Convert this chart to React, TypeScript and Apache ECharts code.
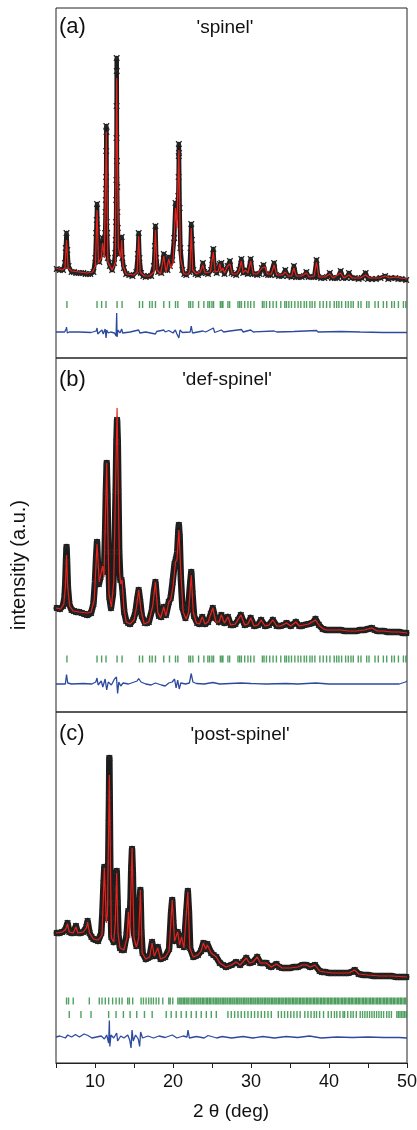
import React, { useEffect, useRef } from "react";
import * as echarts from "echarts";

// ---- Panel (a) 'spinel' : 2θ (deg), intensity (a.u.) ----
const calcA: number[][] = [
  [5.0, 90], [5.8, 88], [6.15, 90], [6.35, 118], [6.55, 90], [7.0, 87], [8.0, 86], [9.0, 85], [9.7, 86], [10.05, 92],
  [10.26, 148], [10.45, 95], [10.8, 100], [10.98, 115], [11.2, 100], [11.45, 226], [11.65, 96], [12.2, 88], [12.6, 95],
  [12.78, 280], [13.0, 110], [13.3, 100], [13.42, 118], [13.6, 92], [14.0, 84], [15.0, 83], [15.4, 86], [15.6, 122],
  [15.8, 86], [16.3, 82], [17.0, 82], [17.55, 86], [17.75, 128], [17.95, 88], [18.4, 84], [18.82, 102], [19.1, 86],
  [19.46, 99], [19.7, 90], [20.0, 95], [20.32, 150], [20.5, 130], [20.75, 208], [20.95, 100], [21.4, 84], [22.0, 84],
  [22.17, 88], [22.34, 130], [22.52, 88], [23.0, 84], [23.5, 86], [23.83, 93], [24.1, 85], [24.8, 86], [25.17, 106],
  [25.4, 86], [25.8, 87], [26.0, 94], [26.2, 87], [26.4, 90], [26.6, 85], [27.0, 92], [27.3, 94], [27.6, 84],
  [28.2, 84], [28.5, 88], [28.77, 97], [29.0, 85], [29.3, 88], [29.6, 85], [29.96, 97], [30.3, 84], [30.8, 84],
  [31.4, 90], [31.8, 91], [32.1, 84], [32.6, 84], [32.96, 93], [33.3, 83], [34.0, 83], [34.4, 86], [34.8, 82],
  [35.2, 82], [35.5, 90], [35.8, 82], [36.5, 82], [37.1, 85], [37.5, 81], [38.1, 82], [38.4, 96], [38.7, 81],
  [39.5, 81], [40.1, 84], [40.5, 80], [41.5, 85], [41.9, 80], [42.56, 83], [43.0, 80], [44.0, 80], [44.7, 83],
  [45.2, 80], [46.5, 80], [47.2, 82], [47.8, 80], [48.5, 81], [49.2, 80], [50.0, 79],
];
const obsA: number[][] = [
  [5.1, 89], [5.5, 88], [5.9, 88], [6.15, 95], [6.25, 110], [6.35, 125], [6.45, 108], [6.6, 92], [7.0, 86], [7.3, 86],
  [7.6, 85], [7.9, 85], [8.2, 85], [8.5, 85], [8.8, 84], [9.1, 84], [9.4, 84], [9.8, 86], [10.05, 100], [10.15, 125],
  [10.22, 138], [10.26, 154], [10.32, 130], [10.4, 110], [10.55, 96], [10.75, 104], [10.9, 112], [10.98, 120],
  [11.05, 110], [11.2, 105], [11.3, 125], [11.36, 146], [11.39, 158], [11.41, 169], [11.43, 181], [11.44, 207],
  [11.45, 232], [11.47, 226], [11.5, 136], [11.55, 125], [11.65, 100], [11.9, 92], [12.2, 88], [12.45, 95],
  [12.6, 105], [12.66, 118], [12.7, 136], [12.72, 158], [12.74, 178], [12.76, 220], [12.77, 252], [12.78, 300],
  [12.79, 287], [12.81, 197], [12.84, 171], [12.87, 146], [12.92, 130], [13.0, 112], [13.15, 104], [13.3, 106],
  [13.42, 121], [13.5, 100], [13.7, 90], [14.0, 84], [14.4, 83], [14.8, 82], [15.3, 86], [15.5, 104], [15.6, 125],
  [15.7, 100], [15.9, 85], [16.2, 82], [16.5, 81], [16.85, 82], [17.2, 82], [17.55, 92], [17.68, 112], [17.75, 132],
  [17.85, 100], [18.1, 86], [18.5, 85], [18.82, 104], [19.0, 88], [19.3, 88], [19.46, 101], [19.6, 92], [19.9, 98],
  [20.15, 120], [20.32, 155], [20.45, 140], [20.6, 153], [20.68, 162], [20.72, 181], [20.74, 202], [20.75, 214],
  [20.77, 205], [20.85, 150], [20.95, 110], [21.2, 88], [21.45, 84], [21.7, 83], [22.1, 86], [22.25, 110],
  [22.34, 134], [22.42, 118], [22.6, 88], [22.9, 84], [23.2, 83], [23.6, 85], [23.83, 95], [24.0, 86], [24.25, 85],
  [24.5, 84], [24.9, 88], [25.05, 98], [25.17, 109], [25.3, 92], [25.6, 85], [26.0, 94], [26.2, 95], [26.35, 88],
  [26.6, 84], [27.0, 92], [27.3, 97], [27.5, 85], [27.8, 84], [28.1, 83], [28.5, 88], [28.77, 99], [29.0, 85],
  [29.3, 88], [29.6, 84], [29.96, 99], [30.2, 84], [30.5, 84], [30.8, 83], [31.1, 84], [31.4, 90], [31.6, 93],
  [31.9, 84], [32.2, 83], [32.5, 83], [32.96, 95], [33.2, 83], [33.6, 82], [34.0, 82], [34.4, 88], [34.7, 82],
  [35.2, 81], [35.5, 92], [35.8, 81], [36.1, 81], [36.5, 81], [36.8, 82], [37.1, 86], [37.4, 81], [37.75, 81],
  [38.1, 81], [38.4, 98], [38.6, 81], [39.0, 80], [39.4, 80], [39.75, 81], [40.1, 85], [40.4, 80], [40.75, 80],
  [41.1, 80], [41.5, 87], [41.8, 80], [42.2, 80], [42.56, 85], [42.9, 80], [43.3, 80], [43.8, 79], [44.2, 80],
  [44.7, 85], [45.0, 79], [45.5, 79], [46.0, 79], [46.6, 80], [47.2, 82], [47.6, 79], [48.0, 80], [48.5, 80],
  [48.9, 79], [49.3, 79], [49.9, 78],
];
const diffA: number[][] = [
  [5, 26], [6.1, 26], [6.3, 29], [6.35, 31], [6.45, 25], [6.7, 26], [8, 26], [9.5, 25.5], [10.15, 27], [10.26, 30],
  [10.35, 24], [10.6, 26], [10.9, 28], [11.05, 24], [11.3, 29], [11.42, 20], [11.5, 28], [11.7, 25], [12.0, 26],
  [12.5, 25], [12.7, 22], [12.78, 45], [12.83, 21], [12.95, 28], [13.2, 25], [13.42, 29], [13.55, 25], [14.5, 26],
  [15.6, 28], [15.75, 25], [16.5, 26], [17.75, 24], [17.9, 26.5], [18.82, 28], [19.0, 26], [19.46, 27.5],
  [20.0, 25], [20.3, 28], [20.5, 24], [20.75, 20], [20.9, 28], [21.2, 25.5], [22.2, 26], [22.34, 32], [22.5, 25],
  [23.83, 27], [24.2, 26], [25.17, 30], [25.35, 25.5], [26.2, 28], [26.5, 26], [27.3, 27], [28.77, 28.5],
  [29.0, 26], [29.96, 28], [30.3, 26], [32.96, 27], [33.3, 26], [35.5, 26.5], [38.4, 27.5], [38.6, 26],
  [41.5, 26.5], [44, 26], [47, 25.5], [50, 25.5],
];
// reflection positions of the spinel phase (used in (a) and (b))
const spinelTicks: number[] = [
  6.4, 10.26, 10.85, 11.41, 12.83, 13.47, 15.7, 16.1, 17.0, 17.33, 17.75, 18.82, 19.55, 20.32, 20.62, 22.03, 22.25,
  22.55, 23.28, 23.96, 24.47, 24.69, 24.99, 25.2, 26.07, 26.27, 26.4, 27.04, 27.26, 28.33, 28.55, 28.77, 29.19,
  29.61, 29.96, 30.39, 31.46, 31.67, 31.98, 32.4, 32.83, 33.26, 33.82, 34.33, 34.55, 34.85, 35.19, 35.62, 36.04,
  36.39, 36.82, 37.12, 37.55, 37.84, 38.19, 38.83, 39.26, 39.69, 40.12, 40.67, 40.98, 41.27, 41.62, 42.13, 42.47,
  42.82, 43.11, 43.75, 44.1, 44.83, 45.13, 45.9, 46.32, 46.97, 47.4, 48.04, 48.38, 48.9, 49.54, 49.85,
];

// ---- Panel (b) 'def-spinel' ----
const calcB: number[][] = [
  [5.0, 104], [5.6, 103], [6.0, 108], [6.2, 125], [6.35, 157], [6.5, 125], [6.75, 106], [7.2, 101], [8.0, 100],
  [9.0, 99], [9.5, 100], [9.9, 112], [10.26, 168], [10.55, 130], [10.8, 140], [10.98, 146], [11.15, 135],
  [11.5, 249], [11.8, 118], [12.1, 105], [12.4, 130], [12.83, 304], [13.15, 140], [13.3, 128], [13.47, 132],
  [13.7, 104], [14.0, 90], [14.5, 88], [15.0, 92], [15.3, 104], [15.6, 122], [15.9, 102], [16.3, 88], [16.9, 90],
  [17.4, 106], [17.75, 130], [18.05, 100], [18.4, 94], [18.82, 105], [19.1, 96], [19.46, 110], [19.7, 112],
  [20.0, 125], [20.32, 150], [20.5, 152], [20.75, 182], [21.0, 140], [21.3, 100], [21.7, 93], [22.0, 100],
  [22.34, 137], [22.6, 100], [23.0, 89], [23.4, 88], [23.75, 95], [24.1, 88], [24.5, 90], [25.1, 104], [25.5, 90],
  [25.9, 90], [26.2, 97], [26.6, 89], [27.05, 95], [27.4, 87], [28.0, 88], [28.7, 97], [29.2, 87], [29.6, 88],
  [29.96, 94], [30.4, 86], [30.9, 87], [31.3, 92], [31.8, 86], [32.3, 87], [32.8, 92], [33.3, 86], [33.8, 86],
  [34.55, 89], [35.1, 86], [35.75, 90], [36.2, 86], [36.8, 87], [37.4, 88], [38.27, 92], [38.8, 86], [39.3, 83],
  [39.7, 82], [40.5, 82], [41.5, 82], [42.5, 81], [43.5, 81], [44.5, 82], [45.5, 84], [46.2, 81], [47.0, 81],
  [48.0, 80], [49.0, 80], [50.0, 79],
];
const obsB: number[][] = [
  [5.1, 104], [5.5, 103], [5.9, 106], [6.1, 115], [6.2, 130], [6.28, 150], [6.35, 165], [6.42, 150], [6.52, 125],
  [6.7, 108], [7.0, 102], [7.3, 101], [7.6, 100], [7.95, 100], [8.3, 99], [8.65, 98], [9.0, 97], [9.5, 99],
  [9.8, 108], [10.0, 130], [10.15, 155], [10.26, 170], [10.38, 145], [10.5, 128], [10.7, 135], [10.9, 144],
  [11.05, 140], [11.2, 150], [11.3, 180], [11.4, 220], [11.5, 249], [11.6, 215], [11.7, 160], [11.85, 115],
  [12.05, 104], [12.3, 118], [12.5, 160], [12.65, 220], [12.75, 270], [12.83, 292], [12.92, 270], [13.0, 220],
  [13.1, 160], [13.25, 132], [13.4, 132], [13.55, 120], [13.75, 100], [14.0, 91], [14.25, 89], [14.5, 88],
  [14.9, 92], [15.2, 100], [15.4, 112], [15.6, 122], [15.8, 110], [16.0, 96], [16.4, 89], [16.65, 89], [16.9, 90],
  [17.3, 102], [17.55, 120], [17.75, 130], [17.95, 110], [18.2, 96], [18.5, 95], [18.82, 105], [19.1, 97],
  [19.46, 110], [19.7, 114], [19.95, 130], [20.2, 148], [20.35, 152], [20.55, 160], [20.68, 180], [20.75, 187],
  [20.85, 175], [21.0, 135], [21.2, 105], [21.6, 94], [21.95, 104], [22.2, 128], [22.34, 140], [22.5, 118],
  [22.7, 96], [23.1, 89], [23.4, 88], [23.75, 95], [24.1, 88], [24.5, 90], [24.85, 98], [25.1, 104], [25.4, 94],
  [25.9, 90], [26.2, 97], [26.6, 89], [27.05, 95], [27.4, 87], [27.7, 87], [28.0, 88], [28.35, 92], [28.7, 97],
  [29.2, 87], [29.6, 88], [29.96, 94], [30.4, 86], [30.9, 87], [31.3, 92], [31.8, 86], [32.3, 87], [32.8, 92],
  [33.3, 86], [33.8, 86], [34.2, 87], [34.55, 89], [35.1, 86], [35.75, 90], [36.2, 86], [36.5, 86], [36.8, 87],
  [37.4, 88], [37.9, 89], [38.27, 93], [38.7, 87], [39.2, 83], [39.7, 82], [40.1, 82], [40.5, 82], [41.0, 82],
  [41.5, 82], [42.0, 81], [42.5, 81], [43.0, 81], [43.5, 81], [44.0, 82], [44.5, 82], [45.0, 83], [45.5, 84],
  [45.85, 82], [46.2, 81], [46.6, 81], [47.0, 81], [47.5, 80], [48.0, 80], [48.5, 80], [49.0, 80], [49.5, 79],
  [49.9, 79],
];
const diffB: number[][] = [
  [5, 28], [6.2, 28], [6.35, 37.5], [6.5, 29], [7, 28], [8.5, 28.5], [9.6, 28], [10.1, 30], [10.26, 34],
  [10.4, 27], [10.8, 31], [11.0, 25], [11.3, 33], [11.5, 22], [11.7, 30], [12.1, 27], [12.5, 33], [12.75, 35],
  [12.9, 18.5], [13.05, 30], [13.3, 26], [13.6, 29], [14.3, 28], [15.4, 31], [15.6, 33.5], [15.9, 30], [16.5, 28],
  [17.2, 27], [17.75, 29], [18.5, 27], [19.0, 26], [19.46, 29], [19.9, 30], [20.2, 33], [20.4, 24], [20.6, 32],
  [20.8, 23], [21.0, 29], [21.6, 28], [22.1, 29], [22.34, 38.5], [22.55, 30], [23.0, 28.5], [24, 28], [25.1, 29.5],
  [26, 28], [28.7, 29], [30, 28.5], [32, 28], [34.5, 28.5], [36, 28], [38.3, 29], [40, 28], [43, 28], [46, 28],
  [49, 28], [49.8, 30], [50, 31],
];

// ---- Panel (c) 'post-spinel' ----
const calcC: number[][] = [
  [5.0, 130], [5.8, 131], [6.2, 133], [6.48, 139], [6.7, 131], [7.2, 130], [7.56, 136], [7.8, 130], [8.5, 131],
  [8.9, 135], [9.05, 141], [9.3, 130], [9.8, 124], [10.4, 123], [10.9, 128], [11.2, 195], [11.45, 140], [11.6, 150],
  [11.84, 288], [12.1, 125], [12.4, 121], [12.6, 140], [12.78, 190], [12.95, 130], [13.2, 115], [13.7, 113],
  [14.1, 125], [14.28, 151], [14.45, 125], [14.75, 215], [15.0, 125], [15.3, 116], [15.6, 125], [15.82, 173],
  [16.05, 110], [16.5, 104], [17.0, 106], [17.32, 120], [17.6, 107], [18.05, 115], [18.4, 104], [19.0, 106],
  [19.5, 112], [19.9, 163], [20.2, 122], [20.6, 131], [20.85, 118], [21.1, 126], [21.4, 115], [21.9, 171],
  [22.15, 115], [22.6, 106], [23.2, 108], [23.6, 112], [23.9, 120], [24.2, 114], [24.4, 118], [24.9, 110],
  [25.55, 106], [26.0, 100], [26.8, 96], [27.5, 98], [28.1, 101], [28.6, 98], [29.4, 105], [29.8, 100],
  [30.26, 101], [30.8, 106], [31.2, 100], [31.98, 100], [32.6, 96], [33.27, 99], [34.0, 95], [35.0, 95],
  [36.0, 96], [36.6, 98], [37.1, 98], [37.6, 96], [38.2, 98], [38.8, 92], [39.5, 91], [40.5, 90], [41.5, 90],
  [42.5, 90], [43.3, 93], [43.8, 89], [45.0, 88], [46.5, 87], [48.0, 87], [50.0, 86],
];
const obsC: number[][] = [
  [5.1, 130], [5.45, 130], [5.8, 131], [6.2, 133], [6.48, 140], [6.7, 131], [7.0, 130], [7.2, 130], [7.56, 137],
  [7.8, 130], [8.15, 130], [8.5, 131], [8.9, 136], [9.05, 142], [9.3, 130], [9.55, 126], [9.8, 124], [10.1, 123],
  [10.4, 122], [10.8, 130], [10.95, 150], [11.1, 180], [11.2, 196], [11.3, 175], [11.45, 145], [11.6, 160],
  [11.7, 200], [11.76, 240], [11.8, 265], [11.84, 305], [11.88, 270], [11.93, 220], [12.0, 160], [12.1, 126],
  [12.4, 121], [12.55, 145], [12.65, 175], [12.78, 192], [12.9, 160], [13.0, 128], [13.2, 115], [13.45, 113],
  [13.7, 113], [14.05, 128], [14.28, 152], [14.4, 140], [14.55, 160], [14.65, 195], [14.75, 214], [14.85, 190],
  [15.0, 130], [15.3, 117], [15.6, 130], [15.75, 165], [15.82, 173], [15.95, 130], [16.1, 110], [16.5, 104],
  [16.75, 105], [17.0, 106], [17.32, 121], [17.6, 107], [18.05, 116], [18.4, 104], [18.7, 105], [19.0, 106],
  [19.5, 114], [19.75, 150], [19.9, 163], [20.05, 140], [20.2, 122], [20.6, 131], [20.85, 118], [21.1, 127],
  [21.4, 116], [21.7, 150], [21.9, 172], [22.05, 150], [22.2, 115], [22.6, 106], [22.9, 107], [23.2, 108],
  [23.6, 112], [23.9, 120], [24.2, 114], [24.4, 119], [24.9, 110], [25.2, 108], [25.55, 106], [26.0, 100],
  [26.4, 98], [26.8, 96], [27.1, 97], [27.5, 98], [28.1, 101], [28.6, 98], [29.0, 101], [29.4, 105], [29.8, 100],
  [30.26, 101], [30.8, 106], [31.2, 100], [31.6, 100], [31.98, 100], [32.3, 97], [32.6, 96], [33.27, 99],
  [33.6, 96], [34.0, 95], [34.5, 95], [35.0, 95], [35.5, 96], [36.0, 96], [36.6, 98], [37.1, 98], [37.6, 96],
  [38.2, 98], [38.8, 92], [39.1, 91], [39.5, 91], [40.0, 90], [40.5, 90], [41.0, 90], [41.5, 90], [42.0, 90],
  [42.5, 90], [42.9, 91], [43.3, 93], [43.8, 89], [44.4, 88], [45.0, 88], [45.7, 87], [46.5, 87], [47.2, 87],
  [48.0, 87], [48.6, 86], [49.3, 86], [49.9, 86],
];
const diffC: number[][] = [
  [5, 26], [5.5, 27], [6.2, 25], [6.5, 28], [7.0, 26], [7.5, 28.5], [8.0, 26], [8.6, 29], [9.1, 27.5], [9.6, 25],
  [10.2, 26], [10.8, 27], [11.2, 24], [11.5, 28], [11.75, 20], [11.84, 42.5], [11.9, 16.5], [12.05, 28],
  [12.4, 25], [12.78, 30], [12.9, 22], [13.3, 27], [13.7, 25], [14.2, 28], [14.45, 23], [14.62, 15], [14.75, 33],
  [14.9, 22], [15.2, 28], [15.55, 24], [15.72, 16.5], [15.85, 31], [16.1, 25], [16.8, 27], [17.5, 25], [18.2, 27],
  [19.0, 25.5], [19.9, 28], [20.5, 25], [21.3, 27], [21.8, 26], [21.92, 33], [22.1, 25], [23.0, 26.5], [24.0, 25],
  [24.5, 27.5], [25.6, 25], [26.3, 26.5], [27.5, 25], [29.0, 26.5], [30.2, 25], [31.5, 26.5], [33.0, 25],
  [34.5, 26.5], [36.0, 25.5], [37.5, 27], [39.0, 25], [41.0, 26], [43.0, 25.5], [45.0, 26], [47.0, 25.5],
  [49.0, 25.5], [50.0, 25],
];
const postTicks1: number[] = [
  6.35, 6.61, 7.21, 9.27, 10.55, 10.9, 11.32, 11.75, 12.26, 12.7, 13.12, 13.47, 14.19, 14.41, 14.83, 15.91, 16.21,
  16.55, 16.89, 17.2, 17.49, 17.84, 18.18, 18.69, 19.46, 19.64, 19.97, 20.62, 20.8, 21.0, 21.15, 21.35, 21.5, 21.7,
  21.9, 22.05, 22.3, 22.45, 22.65, 22.8, 23.0, 23.2, 23.35, 23.55, 23.75, 23.9, 24.1, 24.3, 24.45, 24.65, 24.8,
  25.0, 25.2, 25.4, 25.55, 25.75, 25.9, 26.1, 26.3, 26.45, 26.65, 26.8, 27.0, 27.2, 27.35, 27.55, 27.7, 27.9, 28.1,
  28.25, 28.45, 28.6, 28.8, 29.0, 29.15, 29.35, 29.5, 29.7, 29.9, 30.05, 30.25, 30.4, 30.6, 30.8, 30.95, 31.15,
  31.3, 31.5, 31.7, 31.85, 32.05, 32.2, 32.4, 32.6, 32.75, 32.95, 33.1, 33.3, 33.5, 33.65, 33.85, 34.0, 34.2, 34.4,
  34.55, 34.75, 34.9, 35.1, 35.3, 35.45, 35.65, 35.8, 36.0, 36.2, 36.35, 36.55, 36.7, 36.9, 37.1, 37.25, 37.45,
  37.6, 37.8, 38.0, 38.15, 38.35, 38.5, 38.7, 38.9, 39.05, 39.25, 39.4, 39.6, 39.8, 39.95, 40.15, 40.3, 40.5,
  40.7, 40.85, 41.05, 41.2, 41.4, 41.6, 41.75, 41.95, 42.1, 42.3, 42.5, 42.65, 42.85, 43.0, 43.2, 43.4, 43.55,
  43.75, 43.9, 44.1, 44.3, 44.45, 44.65, 44.8, 45.0, 45.2, 45.35, 45.55, 45.7, 45.9, 46.1, 46.25, 46.45, 46.6,
  46.8, 47.0, 47.15, 47.35, 47.5, 47.7, 47.9, 48.05, 48.25, 48.4, 48.6, 48.8, 48.95, 49.15, 49.3, 49.5, 49.7, 49.85,
];
const postTicks2: number[] = [
  6.7, 8.2, 9.49, 11.75, 12.7, 13.64, 14.5, 15.35, 16.34, 17.33, 19.13, 19.77, 20.41, 21.05, 21.7, 22.34, 22.98,
  23.62, 24.27, 24.91, 25.55, 27.04, 27.47, 27.9, 28.33, 28.75, 29.18, 29.61, 30.04, 30.46, 30.89, 31.32, 31.75,
  32.18, 32.6, 33.5, 33.9, 34.3, 34.7, 35.1, 35.5, 35.9, 36.3, 36.9, 37.3, 37.7, 38.1, 38.4, 38.8, 39.3, 39.9,
  40.3, 40.7, 41.0, 41.4, 41.8, 42.0, 42.4, 42.8, 43.1, 43.5, 44.0, 44.3, 44.6, 44.9, 45.2, 45.5, 45.8, 46.1,
  46.4, 46.7, 47.0, 47.4, 47.7, 48.0, 48.7, 48.9, 49.1, 49.3, 49.5, 49.7, 49.9,
];

const xTickLabels: number[] = [10, 20, 30, 40, 50];
const panelLabels = ["(a)", "(b)", "(c)"];
const panelTitles = ["'spinel'", "'def-spinel'", "'post-spinel'"];

const CROSS =
  "path://M0,1.4L1.4,0L5,3.6L8.6,0L10,1.4L6.4,5L10,8.6L8.6,10L5,6.4L1.4,10L0,8.6L3.6,5Z";
const FONT = "'Liberation Sans', Arial, Helvetica, sans-serif";

export default function App() {
  const ref = useRef<HTMLDivElement>(null);
  useEffect(() => {
    if (!ref.current) return;
    const chart = echarts.init(ref.current, undefined, { renderer: "svg" });
    const grids = [
      { left: 56, top: 8, width: 351, height: 350 },
      { left: 56, top: 358, width: 351, height: 354 },
      { left: 56, top: 712, width: 351, height: 351 },
    ];
    const panels = [
      { obs: obsA, calc: calcA, diff: diffA, band: 4.5, ticks: [{ pos: spinelTicks, y: 53.5 }] },
      { obs: obsB, calc: calcB, diff: diffB, band: 6.5, ticks: [{ pos: spinelTicks, y: 53 }] },
      { obs: obsC, calc: calcC, diff: diffC, band: 6.5, ticks: [{ pos: postTicks1, y: 62 }, { pos: postTicks2, y: 48.5 }] },
    ];
    const series: any[] = [];
    panels.forEach((p, i) => {
      series.push({
        type: "line", xAxisIndex: i, yAxisIndex: i, data: p.obs, z: 2,
        symbol: CROSS, symbolSize: 6.5, showSymbol: true, showAllSymbol: true,
        itemStyle: { color: "#262626" },
        lineStyle: { color: "#1c1c1c", width: p.band, join: "round", cap: "round" },
      });
      series.push({
        type: "line", xAxisIndex: i, yAxisIndex: i, data: p.calc, z: 3,
        symbol: "none", lineStyle: { color: "#e8221b", width: 1.2 },
      });
      p.ticks.forEach((t) => {
        series.push({
          type: "scatter", xAxisIndex: i, yAxisIndex: i, z: 3,
          data: t.pos.map((d) => [d, t.y]),
          symbol: "rect", symbolSize: [1.4, 7],
          itemStyle: { color: "#24883a" },
        });
      });
      series.push({
        type: "line", xAxisIndex: i, yAxisIndex: i, data: p.diff, z: 3,
        symbol: "none", lineStyle: { color: "#2d4b9e", width: 1.3 },
      });
    });
    const texts: any[] = [];
    const labY = [25, 378, 732];
    const titY = [26, 378, 733];
    const titX = [225, 227, 240];
    panelLabels.forEach((l, i) => {
      texts.push({
        type: "text", x: 59, y: labY[i],
        style: { text: l, font: `22px ${FONT}`, fill: "#111", textAlign: "left", textVerticalAlign: "middle" },
      });
      texts.push({
        type: "text", x: titX[i], y: titY[i],
        style: { text: panelTitles[i], font: `19px ${FONT}`, fill: "#111", textAlign: "center", textVerticalAlign: "middle" },
      });
    });
    texts.push({
      type: "text", x: 231, y: 1110,
      style: { text: "2 θ (deg)", font: `19px ${FONT}`, fill: "#111", textAlign: "center", textVerticalAlign: "middle" },
    });
    texts.push({
      type: "text", x: 18, y: 565, rotation: Math.PI / 2,
      style: { text: "intensitiy (a.u.)", font: `20px ${FONT}`, fill: "#111", textAlign: "center", textVerticalAlign: "middle" },
    });
    chart.setOption({
      animation: false,
      grid: grids.map((g) => ({
        ...g, show: true, borderColor: "#222", borderWidth: 1, backgroundColor: "transparent",
        containLabel: false, outerBoundsMode: "none",
      })),
      xAxis: grids.map((_, i) => ({
        type: "value", gridIndex: i, min: 5, max: 50, interval: 5,
        axisLine: { show: i === 2, lineStyle: { color: "#222", width: 1 } },
        axisTick: { show: i === 2, length: 5, lineStyle: { color: "#222" } },
        axisLabel: {
          show: i === 2, margin: 9, color: "#111", fontSize: 18, fontFamily: FONT,
          formatter: (v: number) => (xTickLabels.includes(v) ? String(v) : ""),
        },
        splitLine: { show: false },
      })),
      yAxis: grids.map((g, i) => ({
        type: "value", gridIndex: i, min: 0, max: g.height, show: false, splitLine: { show: false },
      })),
      series,
      graphic: texts,
    });
    return () => chart.dispose();
  }, []);
  return <div ref={ref} style={{ position: "fixed", left: 0, top: 0, width: 417, height: 1130 }} />;
}
